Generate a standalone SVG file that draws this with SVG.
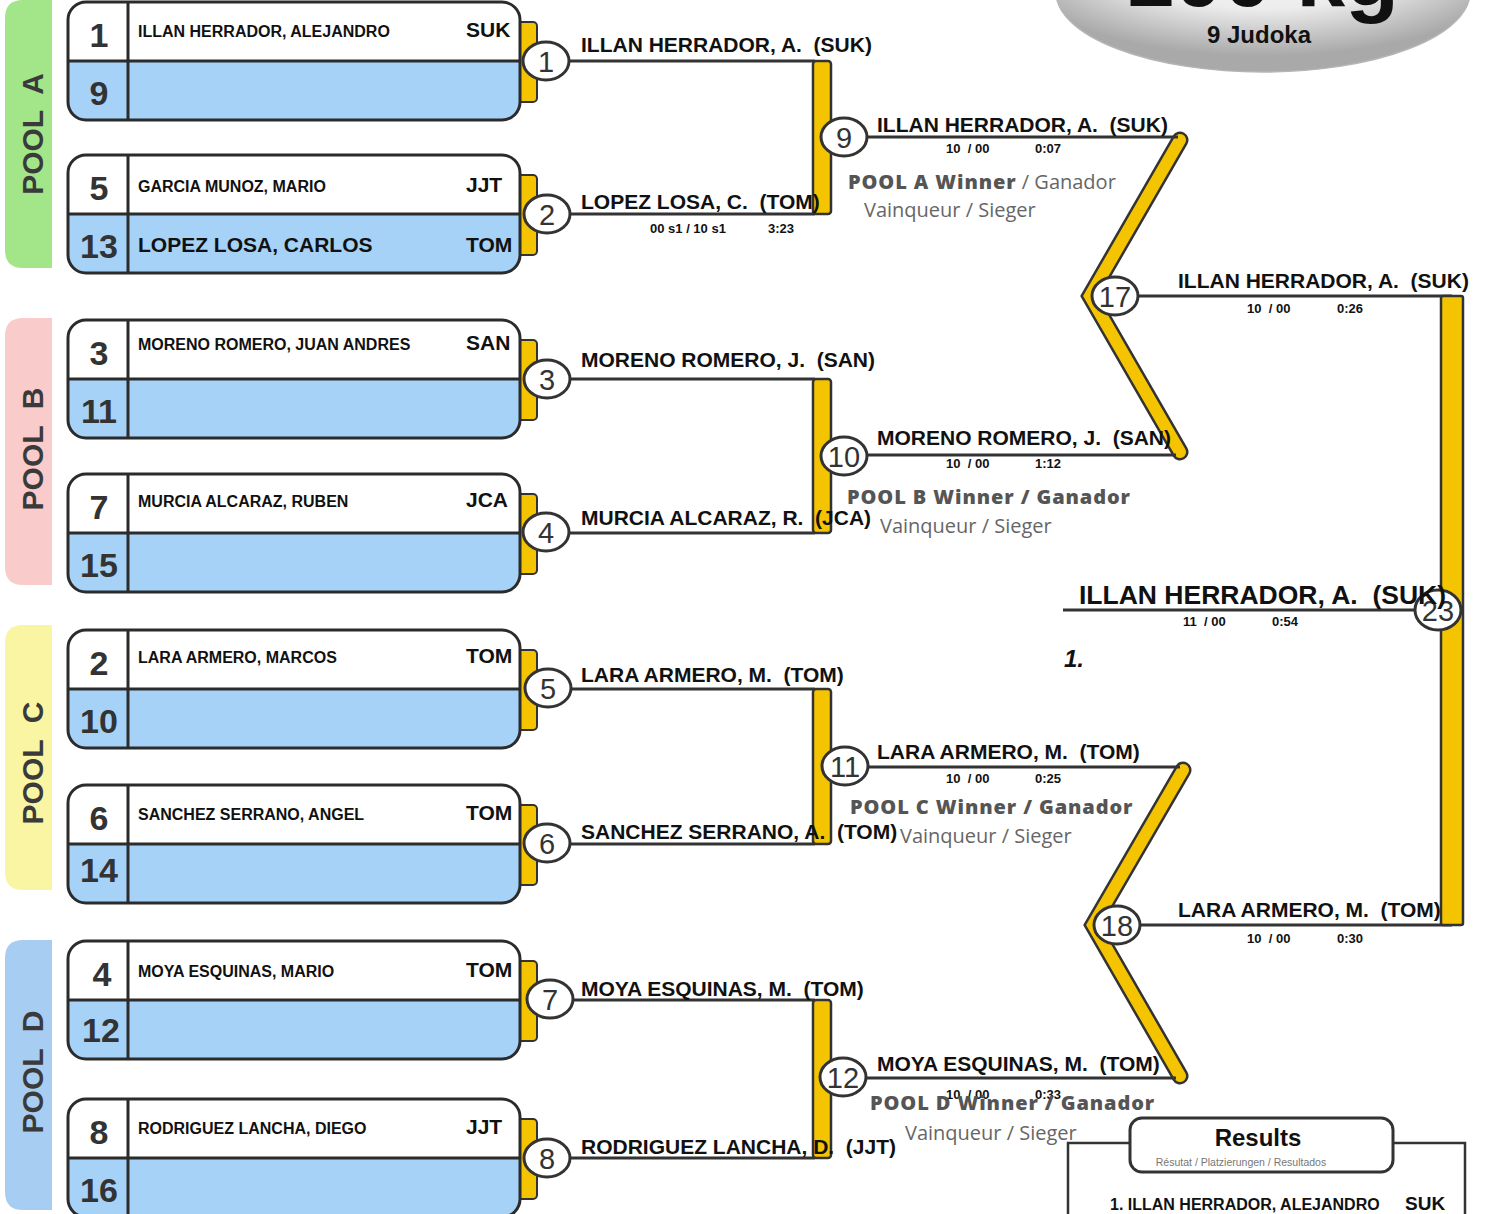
<svg xmlns="http://www.w3.org/2000/svg" width="1487" height="1214" viewBox="0 0 1487 1214">
<defs>
<radialGradient id="tg" cx="50%" cy="25%" r="65%">
<stop offset="0" stop-color="#ffffff"/>
<stop offset="0.55" stop-color="#ececec"/>
<stop offset="1" stop-color="#a9a9a9"/>
</radialGradient>
</defs>
<style>
text{font-family:"Liberation Sans",Arial,sans-serif;font-weight:bold;fill:#111}
.pool{font-size:30px;fill:#3a3a3a;white-space:pre}
.num{font-size:34px;fill:#333;text-anchor:middle}
.nm{font-size:16px}
.nmL{font-size:21px}
.club{font-size:21px}
.box{fill:#a6d2f8}
.boxw{fill:#fff}
.bline{fill:none;stroke:#2b2b2b;stroke-width:3}
.tab{fill:#f5c400;stroke:#333;stroke-width:2}
.circ{fill:#fff;stroke:#333;stroke-width:3}
.cn{font-size:29px;font-weight:normal;fill:#333;text-anchor:middle}
.ln{stroke:#333;stroke-width:3;fill:none}
.bar{fill:#f5c400;stroke:#333;stroke-width:2.5}
.zzo{fill:none;stroke:#333;stroke-width:17;stroke-linejoin:miter;stroke-linecap:round}
.zzi{fill:none;stroke:#f5c400;stroke-width:12;stroke-linejoin:miter;stroke-linecap:round}
.w{font-size:21px;white-space:pre}
.wf{font-size:26.5px;white-space:pre}
.sc{font-size:13px;white-space:pre}
.pw{font-family:"Open Sans",sans-serif;font-size:20px;font-weight:800;letter-spacing:0.9px;fill:#555;white-space:pre}
.pr{font-family:"Open Sans",sans-serif;font-size:20px;font-weight:normal;letter-spacing:0;fill:#666;white-space:pre}
.sub{font-size:10.5px;font-weight:normal;fill:#777}
</style>
<rect width="1487" height="1214" fill="#fff"/>

<!-- pool labels -->
<g id="poolA"><path d="M52,0 V268 H23 Q5,268 5,250 V18 Q5,0 23,0 Z" fill="#a3e68a"/><text class="pool" transform="translate(43,134) rotate(-90)" text-anchor="middle">POOL  A</text></g>
<g id="poolB"><path d="M52,318 V585 H23 Q5,585 5,567 V336 Q5,318 23,318 Z" fill="#f9cbcb"/><text class="pool" transform="translate(43,449) rotate(-90)" text-anchor="middle">POOL  B</text></g>
<g id="poolC"><path d="M52,625 V890 H23 Q5,890 5,872 V643 Q5,625 23,625 Z" fill="#f9f5a3"/><text class="pool" transform="translate(43,763) rotate(-90)" text-anchor="middle">POOL  C</text></g>
<g id="poolD"><path d="M52,940 V1210 H23 Q5,1210 5,1192 V958 Q5,940 23,940 Z" fill="#a8cdf2"/><text class="pool" transform="translate(43,1072) rotate(-90)" text-anchor="middle">POOL  D</text></g>

<!-- title -->
<g id="title">
<ellipse cx="1263" cy="-8" rx="207" ry="80" fill="url(#tg)" stroke="#b5b5b5" stroke-width="1.5"/>
<text x="1262" y="6" font-size="88" text-anchor="middle">100 kg</text>
<text x="1259" y="43" font-size="24" text-anchor="middle" fill="#222">9 Judoka</text>
</g>

<!-- connectors -->
<g id="connectors">
<polyline class="zzo" points="1180,140 1090,296 1180,452"/>
<polyline class="zzi" points="1180,140 1090,296 1180,452"/>
<polyline class="zzo" points="1183,770 1093,925 1180,1076"/>
<polyline class="zzi" points="1183,770 1093,925 1180,1076"/>
<line class="ln" x1="568" y1="61" x2="815" y2="61"/>
<line class="ln" x1="568" y1="214" x2="815" y2="214"/>
<rect class="bar" x="813" y="61" width="18" height="153" rx="3"/>
<line class="ln" x1="568" y1="379" x2="815" y2="379"/>
<line class="ln" x1="568" y1="533" x2="815" y2="533"/>
<rect class="bar" x="813" y="379" width="18" height="154" rx="3"/>
<line class="ln" x1="568" y1="689" x2="815" y2="689"/>
<line class="ln" x1="568" y1="844" x2="815" y2="844"/>
<rect class="bar" x="813" y="689" width="18" height="155" rx="3"/>
<line class="ln" x1="568" y1="1000" x2="815" y2="1000"/>
<line class="ln" x1="568" y1="1158" x2="815" y2="1158"/>
<rect class="bar" x="813" y="1000" width="18" height="158" rx="3"/>
<line class="ln" x1="866" y1="137" x2="1178" y2="137"/>
<line class="ln" x1="866" y1="455" x2="1176" y2="455"/>
<line class="ln" x1="866" y1="767" x2="1180" y2="767"/>
<line class="ln" x1="866" y1="1078" x2="1176" y2="1078"/>
<line class="ln" x1="1137" y1="296" x2="1452" y2="296"/>
<line class="ln" x1="1139" y1="925" x2="1452" y2="925"/>
<rect class="bar" x="1441" y="296" width="22" height="629" rx="2"/>
<line class="ln" x1="1063" y1="610" x2="1418" y2="610"/>
</g>

<!-- entry boxes -->
<g id="box1" transform="translate(0,2)">
<rect class="tab" x="515" y="20" width="22" height="80" rx="4"/>
<rect class="box" x="68" y="0" width="452" height="118" rx="18"/>
<path class="boxw" d="M68,59 V18 Q68,0 86,0 H502 Q520,0 520,18 V59 Z"/>
<rect class="bline" x="68" y="0" width="452" height="118" rx="18"/>
<path class="bline" d="M68,59 H520 M128,0 V118"/>
<text class="num" x="99" y="45">1</text><text class="num" x="99" y="103">9</text>
<text class="nm" x="138" y="35">ILLAN HERRADOR, ALEJANDRO</text><text class="club" x="466" y="35">SUK</text>
</g>
<g id="box2" transform="translate(0,155)">
<rect class="tab" x="515" y="20" width="22" height="80" rx="4"/>
<rect class="box" x="68" y="0" width="452" height="118" rx="18"/>
<path class="boxw" d="M68,59 V18 Q68,0 86,0 H502 Q520,0 520,18 V59 Z"/>
<rect class="bline" x="68" y="0" width="452" height="118" rx="18"/>
<path class="bline" d="M68,59 H520 M128,0 V118"/>
<text class="num" x="99" y="45">5</text><text class="num" x="99" y="103">13</text>
<text class="nm" x="138" y="37">GARCIA MUNOZ, MARIO</text><text class="club" x="466" y="37">JJT</text>
<text class="nmL" x="138" y="97">LOPEZ LOSA, CARLOS</text><text class="club" x="466" y="97">TOM</text>
</g>
<g id="box3" transform="translate(0,320)">
<rect class="tab" x="515" y="20" width="22" height="80" rx="4"/>
<rect class="box" x="68" y="0" width="452" height="118" rx="18"/>
<path class="boxw" d="M68,59 V18 Q68,0 86,0 H502 Q520,0 520,18 V59 Z"/>
<rect class="bline" x="68" y="0" width="452" height="118" rx="18"/>
<path class="bline" d="M68,59 H520 M128,0 V118"/>
<text class="num" x="99" y="45">3</text><text class="num" x="99" y="103">11</text>
<text class="nm" x="138" y="30">MORENO ROMERO, JUAN ANDRES</text><text class="club" x="466" y="30">SAN</text>
</g>
<g id="box4" transform="translate(0,474)">
<rect class="tab" x="515" y="20" width="22" height="80" rx="4"/>
<rect class="box" x="68" y="0" width="452" height="118" rx="18"/>
<path class="boxw" d="M68,59 V18 Q68,0 86,0 H502 Q520,0 520,18 V59 Z"/>
<rect class="bline" x="68" y="0" width="452" height="118" rx="18"/>
<path class="bline" d="M68,59 H520 M128,0 V118"/>
<text class="num" x="99" y="45">7</text><text class="num" x="99" y="103">15</text>
<text class="nm" x="138" y="33">MURCIA ALCARAZ, RUBEN</text><text class="club" x="466" y="33">JCA</text>
</g>
<g id="box5" transform="translate(0,630)">
<rect class="tab" x="515" y="20" width="22" height="80" rx="4"/>
<rect class="box" x="68" y="0" width="452" height="118" rx="18"/>
<path class="boxw" d="M68,59 V18 Q68,0 86,0 H502 Q520,0 520,18 V59 Z"/>
<rect class="bline" x="68" y="0" width="452" height="118" rx="18"/>
<path class="bline" d="M68,59 H520 M128,0 V118"/>
<text class="num" x="99" y="45">2</text><text class="num" x="99" y="103">10</text>
<text class="nm" x="138" y="33">LARA ARMERO, MARCOS</text><text class="club" x="466" y="33">TOM</text>
</g>
<g id="box6" transform="translate(0,785)">
<rect class="tab" x="515" y="20" width="22" height="80" rx="4"/>
<rect class="box" x="68" y="0" width="452" height="118" rx="18"/>
<path class="boxw" d="M68,59 V18 Q68,0 86,0 H502 Q520,0 520,18 V59 Z"/>
<rect class="bline" x="68" y="0" width="452" height="118" rx="18"/>
<path class="bline" d="M68,59 H520 M128,0 V118"/>
<text class="num" x="99" y="45">6</text><text class="num" x="99" y="97">14</text>
<text class="nm" x="138" y="35">SANCHEZ SERRANO, ANGEL</text><text class="club" x="466" y="35">TOM</text>
</g>
<g id="box7" transform="translate(0,941)">
<rect class="tab" x="515" y="20" width="22" height="80" rx="4"/>
<rect class="box" x="68" y="0" width="452" height="118" rx="18"/>
<path class="boxw" d="M68,59 V18 Q68,0 86,0 H502 Q520,0 520,18 V59 Z"/>
<rect class="bline" x="68" y="0" width="452" height="118" rx="18"/>
<path class="bline" d="M68,59 H520 M128,0 V118"/>
<text class="num" x="102" y="45">4</text><text class="num" x="101" y="101">12</text>
<text class="nm" x="138" y="36">MOYA ESQUINAS, MARIO</text><text class="club" x="466" y="36">TOM</text>
</g>
<g id="box8" transform="translate(0,1099)">
<rect class="tab" x="515" y="20" width="22" height="80" rx="4"/>
<rect class="box" x="68" y="0" width="452" height="118" rx="18"/>
<path class="boxw" d="M68,59 V18 Q68,0 86,0 H502 Q520,0 520,18 V59 Z"/>
<rect class="bline" x="68" y="0" width="452" height="118" rx="18"/>
<path class="bline" d="M68,59 H520 M128,0 V118"/>
<text class="num" x="99" y="45">8</text><text class="num" x="99" y="103">16</text>
<text class="nm" x="138" y="35">RODRIGUEZ LANCHA, DIEGO</text><text class="club" x="466" y="35">JJT</text>
</g>

<!-- match circles -->
<g id="m1"><ellipse class="circ" cx="546" cy="61" rx="23" ry="19"/><text class="cn" x="546" y="72">1</text></g>
<g id="m2"><ellipse class="circ" cx="547" cy="214" rx="23" ry="19"/><text class="cn" x="547" y="225">2</text></g>
<g id="m3"><ellipse class="circ" cx="547" cy="379" rx="23" ry="19"/><text class="cn" x="547" y="390">3</text></g>
<g id="m4"><ellipse class="circ" cx="546" cy="532" rx="23" ry="19"/><text class="cn" x="546" y="543">4</text></g>
<g id="m5"><ellipse class="circ" cx="548" cy="688" rx="23" ry="19"/><text class="cn" x="548" y="699">5</text></g>
<g id="m6"><ellipse class="circ" cx="547" cy="843" rx="23" ry="19"/><text class="cn" x="547" y="854">6</text></g>
<g id="m7"><ellipse class="circ" cx="550" cy="999" rx="23" ry="19"/><text class="cn" x="550" y="1010">7</text></g>
<g id="m8"><ellipse class="circ" cx="547" cy="1158" rx="23" ry="19"/><text class="cn" x="547" y="1169">8</text></g>
<g id="m9"><ellipse class="circ" cx="844" cy="137" rx="23" ry="19"/><text class="cn" x="844" y="148">9</text></g>
<g id="m10"><ellipse class="circ" cx="844" cy="456" rx="23" ry="19"/><text class="cn" x="844" y="467">10</text></g>
<g id="m11"><ellipse class="circ" cx="845" cy="766" rx="23" ry="19"/><text class="cn" x="845" y="777">11</text></g>
<g id="m12"><ellipse class="circ" cx="843" cy="1077" rx="23" ry="19"/><text class="cn" x="843" y="1088">12</text></g>
<g id="m17"><ellipse class="circ" cx="1115" cy="296" rx="23" ry="19"/><text class="cn" x="1115" y="307">17</text></g>
<g id="m18"><ellipse class="circ" cx="1117" cy="925" rx="23" ry="19"/><text class="cn" x="1117" y="936">18</text></g>
<g id="m23"><ellipse class="circ" cx="1438" cy="610" rx="23" ry="20"/><text class="cn" x="1438" y="621">23</text></g>

<!-- winner texts -->
<g id="labels">
<text class="w" x="581" y="52">ILLAN HERRADOR, A.  (SUK)</text>
<text class="w" x="581" y="209">LOPEZ LOSA, C.  (TOM)</text>
<text class="sc" x="650" y="233">00 s1 / 10 s1</text><text class="sc" x="768" y="233">3:23</text>
<text class="w" x="581" y="367">MORENO ROMERO, J.  (SAN)</text>
<text class="w" x="581" y="525">MURCIA ALCARAZ, R.  (JCA)</text>
<text class="w" x="581" y="682">LARA ARMERO, M.  (TOM)</text>
<text class="w" x="581" y="839">SANCHEZ SERRANO, A.  (TOM)</text>
<text class="w" x="581" y="996">MOYA ESQUINAS, M.  (TOM)</text>
<text class="w" x="581" y="1154">RODRIGUEZ LANCHA, D.  (JJT)</text>

<text class="w" x="877" y="132">ILLAN HERRADOR, A.  (SUK)</text>
<text class="sc" x="946" y="153">10  / 00</text><text class="sc" x="1035" y="153">0:07</text>
<text class="w" x="877" y="445">MORENO ROMERO, J.  (SAN)</text>
<text class="sc" x="946" y="468">10  / 00</text><text class="sc" x="1035" y="468">1:12</text>
<text class="w" x="877" y="759">LARA ARMERO, M.  (TOM)</text>
<text class="sc" x="946" y="783">10  / 00</text><text class="sc" x="1035" y="783">0:25</text>
<text class="w" x="877" y="1071">MOYA ESQUINAS, M.  (TOM)</text>
<text class="sc" x="946" y="1099">10  / 00</text><text class="sc" x="1035" y="1099">0:33</text>

<text class="w" x="1178" y="288">ILLAN HERRADOR, A.  (SUK)</text>
<text class="sc" x="1247" y="313">10  / 00</text><text class="sc" x="1337" y="313">0:26</text>
<text class="w" x="1178" y="917">LARA ARMERO, M.  (TOM)</text>
<text class="sc" x="1247" y="943">10  / 00</text><text class="sc" x="1337" y="943">0:30</text>

<text class="wf" x="1079" y="604">ILLAN HERRADOR, A.  (SUK)</text>
<text class="sc" x="1183" y="626">11  / 00</text><text class="sc" x="1272" y="626">0:54</text>
<text x="1064" y="667" font-size="24" font-style="italic" fill="#555">1.</text>

<text class="pw" x="848" y="189">POOL A Winner<tspan class="pr"> / Ganador</tspan></text>
<text class="pr" x="864" y="217">Vainqueur / Sieger</text>
<text class="pw" x="847" y="504">POOL B Winner / Ganador</text>
<text class="pr" x="880" y="533">Vainqueur / Sieger</text>
<text class="pw" x="850" y="814">POOL C Winner / Ganador</text>
<text class="pr" x="900" y="843">Vainqueur / Sieger</text>
<text class="pw" x="870" y="1110">POOL D Winner / Ganador</text>
<text class="pr" x="905" y="1140">Vainqueur / Sieger</text>
</g>

<!-- results -->
<g id="results">
<rect x="1068" y="1143" width="397" height="100" fill="#fff" stroke="#333" stroke-width="2.5"/>
<rect x="1130" y="1118" width="263" height="54" rx="12" fill="#fff" stroke="#333" stroke-width="3"/>
<text x="1258" y="1146" font-size="24" text-anchor="middle" fill="#444">Results</text>
<text class="sub" x="1241" y="1166" text-anchor="middle">Résutat / Platzierungen / Resultados</text>
<text x="1110" y="1210" font-size="16">1. ILLAN HERRADOR, ALEJANDRO</text>
<text x="1405" y="1210" font-size="19">SUK</text>
</g>
</svg>
